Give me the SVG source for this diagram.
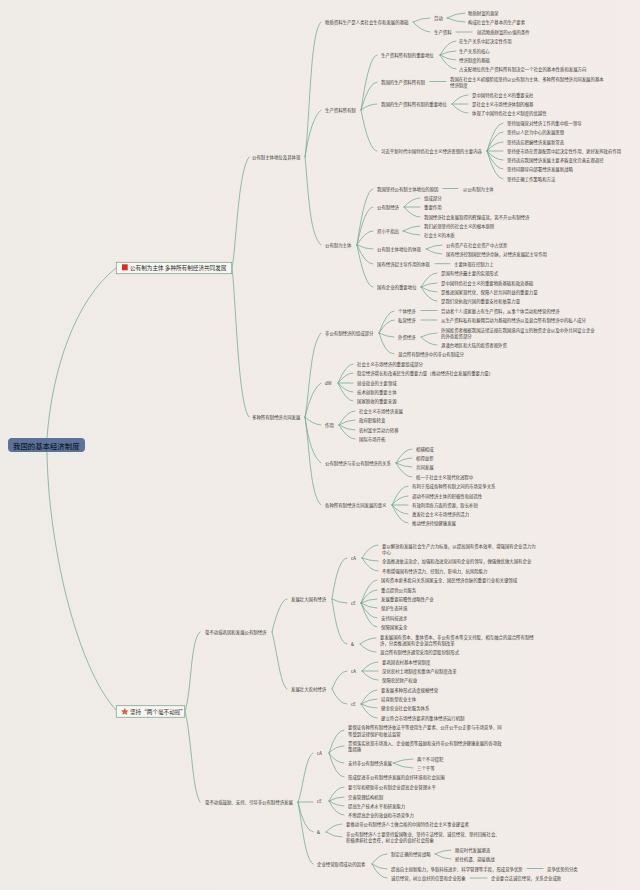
<svg xmlns="http://www.w3.org/2000/svg" width="640" height="890" viewBox="0 0 640 890">
<style>
text{font-family:"Noto Sans CJK SC","Liberation Sans",sans-serif;font-size:4.4px;fill:#3b3b36;dominant-baseline:central}
.c path{fill:none;stroke:#6fa98f;stroke-width:.75;stroke-linecap:round}
.box{fill:#f8f6f3;stroke:#7fa898;stroke-width:.8}
.t1{font-size:5.6px;fill:#2c2c2c}
.root{font-size:7.4px;fill:#101c30;font-weight:500}
</style>
<defs><linearGradient id="bg" x1="0" y1="0" x2="1" y2="0"><stop offset="0" stop-color="#efebe6"/><stop offset="1" stop-color="#f3ecea"/></linearGradient></defs>
<rect width="640" height="890" fill="url(#bg)"/>
<g id="connectors" class="c">
<path d="M47 438C52 370 75 300 116 268M47 452C48 540 75 665 116 710"/>
<path d="M232 268C236 250 238 170 249 157M232 268C236 300 238 405 249 417"/>
<path d="M305 157C310 120 310 30 321 22M305 157Q311 118 321 110M305 157C309 200 310 235 321 245"/>
<path d="M305 417C310 390 310 345 321 333M305 417Q312 388 321 383M305 417Q312 424 321 425M305 417Q310 455 321 463M305 417C310 450 310 495 321 505"/>
<path d="M413 22Q421 18 430 18M413 22Q421 31 430 32M447 18Q456 13 465 13M447 18Q456 22 465 22M456 32H472"/>
<path d="M361 110Q369 55 377 55M361 110Q369 82 377 82M361 110Q369 104 377 104M361 110Q369 151 377 151"/>
<path d="M440 55Q448 41 456 41M440 55Q448 51 456 51M440 55Q448 60 456 60M440 55Q448 69 456 69M430 81.500H446"/>
<path d="M452 104Q460 95 468 95M452 104H468M452 104Q460 113 468 113"/>
<path d="M487 151Q495 123 503 123M487 151Q495 132 503 132M487 151Q495 142 503 142M487 151H503M487 151Q495 160 503 160M487 151Q495 169 503 169M487 151Q495 179 503 179"/>
<path d="M357 245Q365 189 373 189M357 245Q365 207 373 207M357 245Q365 231 373 231M357 245Q365 249 373 249M357 245Q365 264 373 264M357 245Q365 287 373 287"/>
<path d="M443 188.500H458M404 207Q412 198 420 198M404 207H420M404 207Q412 217 420 217M403 231Q412 226 420 226M403 231Q412 235 420 235M426 249Q434 245 442 245M426 249Q434 254 442 254M435 263.700H450"/>
<path d="M421 287Q429 273 437 273M421 287Q429 283 437 283M421 287Q429 292 437 292M421 287Q429 301 437 301"/>
<path d="M379 333Q387 311 394 311M379 333Q387 320 394 320M379 333Q387 337 394 337M379 333Q385 354 394 354M421 310.500H437M421 320H437M421 337Q429 333 437 333M421 337Q429 345 437 345"/>
<path d="M338 383Q346 364 353 364M338 383Q346 373 353 373M338 383H353M338 383Q346 392 353 392M338 383Q346 401 353 401"/>
<path d="M339 425Q347 411 355 411M339 425Q347 420 355 420M339 425Q347 430 355 430M339 425Q347 439 355 439"/>
<path d="M396 463Q404 449 412 449M396 463Q404 458 412 458M396 463Q404 467 412 467M396 463Q404 477 412 477"/>
<path d="M392 505Q400 486 408 486M392 505Q400 496 408 496M392 505H408M392 505Q400 514 408 514M392 505Q400 523 408 523"/>
<path d="M185 711C192 690 190 640 200 632M185 711C192 740 192 790 200 802"/>
<path d="M272 632Q280 599 287 599M272 632C277 650 280 685 287 689"/>
<path d="M332 599Q338 558 347 558M332 599Q339 603 347 603M332 599Q338 644 347 644M332 689Q339 671 347 671M332 689Q339 704 347 704"/>
<path d="M362 558Q370 545 378 545M362 558Q370 561 378 561M362 558Q370 571 378 571"/>
<path d="M361 603Q369 580 377 580M361 603Q369 590 377 590M361 603Q369 599 377 599M361 603Q369 608 377 608M361 603Q369 618 377 618M361 603Q369 627 377 627"/>
<path d="M360 644Q368 638 376 638M360 644Q368 652 376 652M362 671Q370 662 378 662M362 671H378M362 671Q370 680 378 680"/>
<path d="M361 704Q369 690 377 690M361 704Q369 699 377 699M361 704Q369 708 377 708M361 704Q369 718 377 718"/>
<path d="M298 802C303 790 305 757 313 753M298 802H313M298 802Q304 830 313 832M298 802C303 830 305 858 313 864"/>
<path d="M329 753Q336 730 344 730M329 753Q336 746 344 746M329 753Q336 763 344 763M329 753Q336 777 344 777M393 763Q403 759 413 759M393 763Q403 768 413 768"/>
<path d="M329 801Q336 787 344 787M329 801Q336 797 344 797M329 801Q336 806 344 806M329 801Q336 815 344 815M326 832Q334 824 342 824M326 832Q334 837 342 837"/>
<path d="M372 864Q379 854 387 854M372 864Q379 869 387 869M372 864Q379 878 387 878M435 854Q443 850 451 850M435 854Q443 859 451 859M527 868.500H543M470 878H487"/>
</g>
<g id="root"><rect x="8" y="438" width="77" height="14" rx="4" fill="#5c7298"/><text class="root" x="13" y="445">我国的基本经济制度</text></g>
<g id="main1"><rect class="box" x="116.300" y="262.300" width="115.400" height="11.400"/><rect x="122" y="264.300" width="5.700" height="6" fill="#e0281c"/><text class="t1" x="130" y="268.300">公有制为主体 多种所有制经济共同发展</text></g>
<g id="main2"><rect class="box" x="116.300" y="705.700" width="68.400" height="11.600"/><path d="M124.800 707.800l1.100 2.400 2.600.3-1.900 1.800.5 2.600-2.300-1.300-2.300 1.300.5-2.600-1.900-1.800 2.600-.3z" fill="#d8603a"/><text class="t1" x="130" y="711.500">坚持“两个毫不动摇”</text></g>
<g id="n1"><text x="252" y="157">公有制主体地位及其体现</text></g>
<g id="n2"><text x="252" y="417">多种所有制经济共同发展</text></g>
<g id="n3"><text x="325" y="22">物质资料生产是人类社会生存和发展的基础</text></g>
<g id="n4"><text x="434" y="17.500">劳动</text></g>
<g id="n5"><text x="468" y="13">物质财富的源泉</text></g>
<g id="n6"><text x="468" y="22">构成社会生产基本的生产要素</text></g>
<g id="n7"><text x="434" y="31.500">生产资料</text></g>
<g id="n8"><text x="477" y="31.500">创造物质财富的价值的条件</text></g>
<g id="n9"><text x="325" y="109.500">生产资料所有制</text></g>
<g id="n10"><text x="381" y="55">生产资料所有制的重要地位</text></g>
<g id="n11"><text x="459" y="41">在生产关系中起决定性作用</text></g>
<g id="n12"><text x="459" y="50.500">生产关系的核心</text></g>
<g id="n13"><text x="459" y="60">经济制度的基础</text></g>
<g id="n14"><text x="459" y="69">占支配地位的生产资料所有制决定一个社会的基本性质和发展方向</text></g>
<g id="n15"><text x="381" y="81.500">我国的生产资料所有制</text></g>
<g id="n16"><text x="450" y="79">我国在社会主义初级阶段坚持以公有制为主体、多种所有制经济共同发展的基本</text><text x="450" y="85">经济制度</text></g>
<g id="n17"><text x="381" y="103.500">我国的生产资料所有制的重要地位</text></g>
<g id="n18"><text x="472" y="94.500">是中国特色社会主义的重要支柱</text></g>
<g id="n19"><text x="472" y="103.500">是社会主义市场经济体制的根基</text></g>
<g id="n20"><text x="472" y="113">体现了中国特色社会主义制度的优越性</text></g>
<g id="n21"><text x="381" y="150.500">习近平新时代中国特色社会主义经济思想的主要内容</text></g>
<g id="n22"><text x="507" y="122.500">坚持加强党对经济工作的集中统一领导</text></g>
<g id="n23"><text x="507" y="132">坚持以人民为中心的发展思想</text></g>
<g id="n24"><text x="507" y="141.500">坚持适应把握经济发展新常态</text></g>
<g id="n25"><text x="507" y="150.500">坚持使市场在资源配置中起决定性作用、更好发挥政府作用</text></g>
<g id="n26"><text x="507" y="160">坚持适应我国经济发展主要矛盾变化完善宏观调控</text></g>
<g id="n27"><text x="507" y="169">坚持问题导向部署经济发展新战略</text></g>
<g id="n28"><text x="507" y="178.500">坚持正确工作策略和方法</text></g>
<g id="n29"><text x="325" y="244.500">公有制为主体</text></g>
<g id="n30"><text x="377" y="188.500">我国坚持公有制主体地位的原因</text></g>
<g id="n31"><text x="463" y="188.500">以公有制为主体</text></g>
<g id="n32"><text x="377" y="207">公有制经济</text></g>
<g id="n33"><text x="424" y="197.500">组成部分</text></g>
<g id="n34"><text x="424" y="207">重要作用</text></g>
<g id="n35"><text x="424" y="216.500">我国经济社会发展取得的辉煌成就，离不开公有制经济</text></g>
<g id="n36"><text x="377" y="230.500">邓小平指出</text></g>
<g id="n37"><text x="424" y="226">我们必须坚持的社会主义的根本原则</text></g>
<g id="n38"><text x="424" y="235">社会主义的本质</text></g>
<g id="n39"><text x="377" y="249.300">公有制主体地位的体现</text></g>
<g id="n40"><text x="446" y="244.700">公有资产在社会总资产中占优势</text></g>
<g id="n41"><text x="446" y="254">国有经济控制国民经济命脉，对经济发展起主导作用</text></g>
<g id="n42"><text x="377" y="263.700">国有经济起主导作用的体现</text></g>
<g id="n43"><text x="454" y="263.700">主要体现在控制力上</text></g>
<g id="n44"><text x="377" y="287">国有企业的重要地位</text></g>
<g id="n45"><text x="441" y="273">是国有经济最主要的实现形式</text></g>
<g id="n46"><text x="441" y="282.500">是中国特色社会主义的重要物质基础和政治基础</text></g>
<g id="n47"><text x="441" y="291.700">是推进国家现代化、保障人民共同利益的重要力量</text></g>
<g id="n48"><text x="441" y="301">是我们党执政兴国的重要支柱和依靠力量</text></g>
<g id="n49"><text x="325" y="332.500">非公有制经济的组成部分</text></g>
<g id="n50"><text x="398" y="310.500">个体经济</text></g>
<g id="n51"><text x="441" y="310.500">劳动者个人或家庭占有生产资料，从事个体劳动和经营的经济</text></g>
<g id="n52"><text x="398" y="320">私营经济</text></g>
<g id="n53"><text x="441" y="320">从生产资料私有和雇佣劳动为基础的经济以及混合所有制经济中的私人成分</text></g>
<g id="n54"><text x="398" y="336.500">外资经济</text></g>
<g id="n55"><text x="441" y="329.500">外国投资者根据我国法律法规在我国境内设立的独资企业以及中外共同设立企业</text><text x="441" y="335.500">的外商投资部分</text></g>
<g id="n56"><text x="441" y="344.700">港澳台地区和大陆的投资者视外资</text></g>
<g id="n57"><text x="398" y="354.300">混合所有制经济中的非公有制成分</text></g>
<g id="n58"><text x="325" y="382.500">dW</text></g>
<g id="n59"><text x="357" y="364">社会主义市场经济的重要组成部分</text></g>
<g id="n60"><text x="357" y="373">稳定经济增长和改善民生的重要力量（推动经济社会发展的重要力量）</text></g>
<g id="n61"><text x="357" y="382.500">创业就业的主要领域</text></g>
<g id="n62"><text x="357" y="392">技术创新的重要主体</text></g>
<g id="n63"><text x="357" y="401">国家税收的重要来源</text></g>
<g id="n64"><text x="325" y="424.700">作用</text></g>
<g id="n65"><text x="359" y="411">社会主义市场经济发展</text></g>
<g id="n66"><text x="359" y="420">政府职能转变</text></g>
<g id="n67"><text x="359" y="429.500">农村富余劳动力转移</text></g>
<g id="n68"><text x="359" y="439">国际市场开拓</text></g>
<g id="n69"><text x="325" y="462.500">公有制经济与非公有制经济的关系</text></g>
<g id="n70"><text x="416" y="448.500">相辅相成</text></g>
<g id="n71"><text x="416" y="458">相得益彰</text></g>
<g id="n72"><text x="416" y="467">共同发展</text></g>
<g id="n73"><text x="416" y="476.500">统一于社会主义现代化进程中</text></g>
<g id="n74"><text x="325" y="504.500">各种所有制经济共同发展的意义</text></g>
<g id="n75"><text x="412" y="486">有利于形成各种所有制之间的市场竞争关系</text></g>
<g id="n76"><text x="412" y="495.500">调动不同经济主体的积极性和创造性</text></g>
<g id="n77"><text x="412" y="504.700">有效利用各方面的资源，取长补短</text></g>
<g id="n78"><text x="412" y="514">激发社会主义市场经济的活力</text></g>
<g id="n79"><text x="412" y="523.300">推动经济持续健康发展</text></g>
<g id="n80"><text x="205" y="631.700">毫不动摇巩固和发展公有制经济</text></g>
<g id="n81"><text x="205" y="802.300">毫不动摇鼓励、支持、引导非公有制经济发展</text></g>
<g id="n82"><text x="291" y="599">发展壮大国有经济</text></g>
<g id="n83"><text x="351" y="558">cA</text></g>
<g id="n84"><text x="382" y="545.500">要以解放和发展社会生产力为标准，以提高国有资本效率、增强国有企业活力为</text><text x="382" y="552">中心</text></g>
<g id="n85"><text x="382" y="561">全面推进依法治企，加强和改进党对国有企业的领导，做强做优做大国有企业</text></g>
<g id="n86"><text x="382" y="570.500">不断增强国有经济活力、控制力、影响力、抗风险能力</text></g>
<g id="n87"><text x="351" y="603">cE</text></g>
<g id="n88"><text x="381" y="580">国有资本更多投向关系国家安全、国民经济命脉的重要行业和关键领域</text></g>
<g id="n89"><text x="381" y="589.500">重点提供公共服务</text></g>
<g id="n90"><text x="381" y="599">发展重要前瞻性战略性产业</text></g>
<g id="n91"><text x="381" y="608">保护生态环境</text></g>
<g id="n92"><text x="381" y="617.500">支持科技进步</text></g>
<g id="n93"><text x="381" y="627">保障国家安全</text></g>
<g id="n94"><text x="351" y="644">&amp;</text></g>
<g id="n95"><text x="380" y="636.500">要发展国有资本、集体资本、非公有资本等交叉持股、相互融合的混合所有制经</text><text x="380" y="643">济，分类推进国有企业混合所有制改革</text></g>
<g id="n96"><text x="380" y="652">混合所有制经济通常采用的是股份制形式</text></g>
<g id="n97"><text x="291" y="689">发展壮大农村经济</text></g>
<g id="n98"><text x="351" y="671">cA</text></g>
<g id="n99"><text x="382" y="661.500">要巩固农村基本经营制度</text></g>
<g id="n100"><text x="382" y="671">深化农村土地制度和集体产权制度改革</text></g>
<g id="n101"><text x="382" y="680">保障农民财产权益</text></g>
<g id="n102"><text x="351" y="704">cE</text></g>
<g id="n103"><text x="381" y="689.500">要发展多种形式适度规模经营</text></g>
<g id="n104"><text x="381" y="699">培育新型农业主体</text></g>
<g id="n105"><text x="381" y="708">健全农业社会化服务体系</text></g>
<g id="n106"><text x="381" y="717.700">建立符合市场经济要求的集体经济运行机制</text></g>
<g id="n107"><text x="317" y="752.500">cA</text></g>
<g id="n108"><text x="348" y="727">要保证各种所有制经济依法平等使用生产要素、公开公平公正参与市场竞争、同</text><text x="348" y="733.500">等受到法律保护和依法监管</text></g>
<g id="n109"><text x="348" y="743">贯彻落实放宽市场准入、企业融资等鼓励和支持非公有制经济健康发展的各项政</text><text x="348" y="749">策措施</text></g>
<g id="n110"><text x="348" y="763">支持非公有制经济发展</text></g>
<g id="n111"><text x="417" y="758.500">两个不可侵犯</text></g>
<g id="n112"><text x="417" y="767.700">三个平等</text></g>
<g id="n113"><text x="348" y="777">形成促进非公有制经济发展的良好环境和社会氛围</text></g>
<g id="n114"><text x="317" y="800.700">cE</text></g>
<g id="n115"><text x="348" y="787">要引导和帮助非公有制企业提高企业管理水平</text></g>
<g id="n116"><text x="348" y="796.500">完善管理结构机制</text></g>
<g id="n117"><text x="348" y="805.500">提高生产技术水平和研发能力</text></g>
<g id="n118"><text x="348" y="815">不断提高企业的效益和市场竞争力</text></g>
<g id="n119"><text x="317" y="832">&amp;</text></g>
<g id="n120"><text x="346" y="824">要推动非公有制经济人士做合格的中国特色社会主义事业建设者</text></g>
<g id="n121"><text x="346" y="834">非公有制经济人士要坚持爱国敬业、坚持守法经营、诚信经营、坚持回报社会、</text><text x="346" y="840">积极承担社会责任，树立企业的良好社会形象</text></g>
<g id="n122"><text x="317" y="863.500">企业经营取得成功的因素</text></g>
<g id="n123"><text x="391" y="854">制定正确的经营战略</text></g>
<g id="n124"><text x="455" y="849.500">顺应时代发展潮流</text></g>
<g id="n125"><text x="455" y="859">抓住机遇、迎接挑战</text></g>
<g id="n126"><text x="391" y="868.500">提高自主创新能力，争取科技进步、科学管理等手段，形成竞争优势</text></g>
<g id="n127"><text x="547" y="868.500">竞争优势的分类</text></g>
<g id="n128"><text x="391" y="878">诚信经营，树立良好的信誉和企业形象</text></g>
<g id="n129"><text x="491" y="878">企业要合法诚信经营，关系企业成败</text></g>
</svg>
